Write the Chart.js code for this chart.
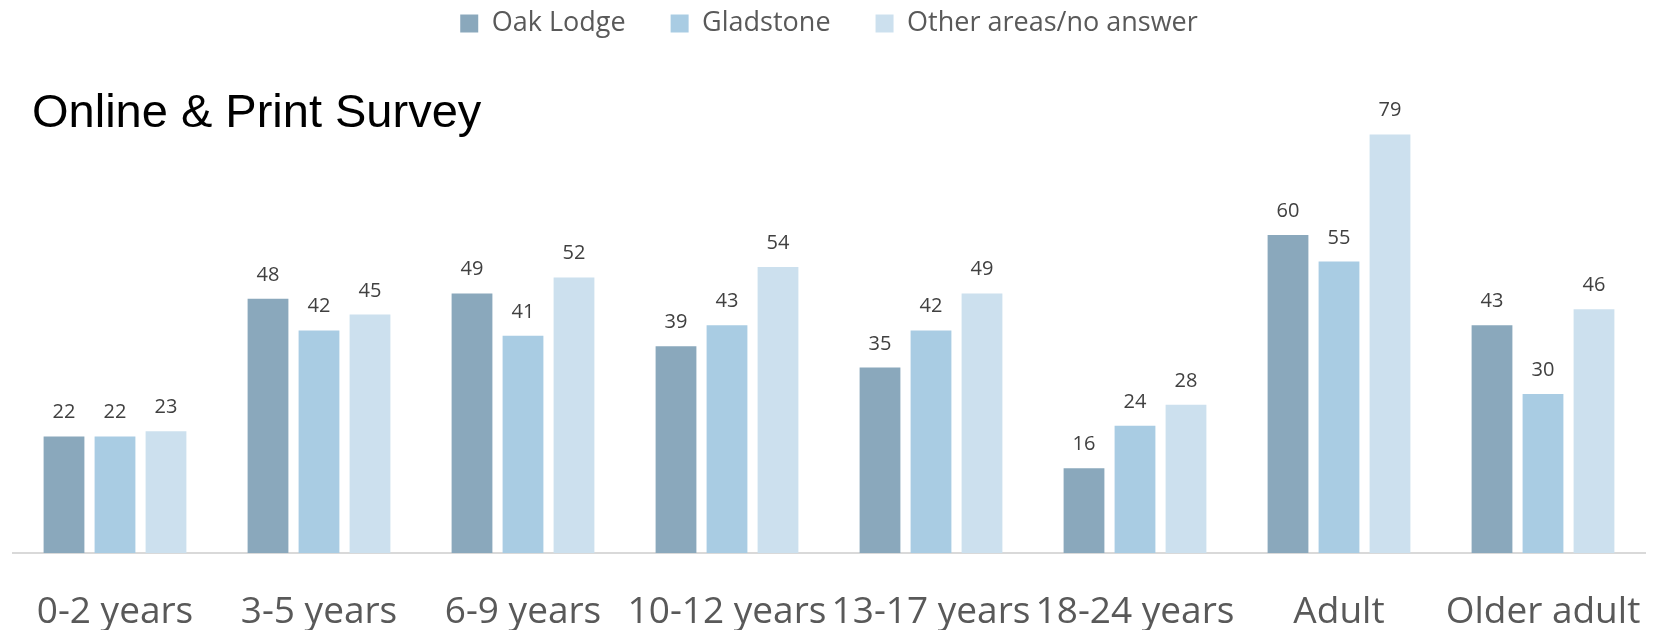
<!DOCTYPE html>
<html lang="en">
  <head>
    <meta charset="UTF-8" />
    <title>Online & Print Survey</title>
    <script src="https://cdn.jsdelivr.net/npm/chart.js"></script>
    <style>
      html, body { margin: 0; padding: 0; background: #fff; overflow: hidden; }
      #wrap { width: 1657px; height: 630px; }
    </style>
  </head>
  <body>
    <div id="wrap"><canvas id="surveyChart"></canvas></div>

    <script>
      const ageGroups = ["0-2 years", "3-5 years", "6-9 years", "10-12 years", "13-17 years", "18-24 years", "Adult", "Older adult"];
      const oakLodge = [22, 48, 49, 39, 35, 16, 60, 43];
      const gladstone = [22, 42, 41, 43, 42, 24, 55, 30];
      const otherAreas = [23, 45, 52, 54, 49, 28, 79, 46];

      // title sits inside the plot, top-left
      const titlePlugin = {
        id: "surveyTitle",
        afterDraw(chart) {
          const ctx = chart.ctx;
          ctx.save();
          ctx.font = "47px 'Liberation Sans', Arial, sans-serif";
          ctx.fillStyle = "#000";
          ctx.textBaseline = "alphabetic";
          ctx.textAlign = "left";
          ctx.fillText("Online & Print Survey", 32, 127);
          ctx.restore();
        },
      };

      // value labels above each bar
      const valueLabels = {
        id: "valueLabels",
        afterDatasetsDraw(chart) {
          const ctx = chart.ctx;
          ctx.save();
          ctx.font = "20px 'Open Sans', sans-serif";
          ctx.fillStyle = "#404040";
          ctx.textAlign = "center";
          ctx.textBaseline = "alphabetic";
          chart.data.datasets.forEach((ds, i) => {
            chart.getDatasetMeta(i).data.forEach((bar, j) => {
              ctx.fillText(ds.data[j], bar.x, bar.y - 18);
            });
          });
          ctx.restore();
        },
      };

      const ctx = document.getElementById("surveyChart").getContext("2d");
      new Chart(ctx, {
        type: "bar",
        data: {
          labels: ageGroups,
          datasets: [
            { label: "Oak Lodge", data: oakLodge, backgroundColor: "#8AA8BC" },
            { label: "Gladstone", data: gladstone, backgroundColor: "#A9CCE3" },
            { label: "Other areas/no answer", data: otherAreas, backgroundColor: "#CCE0EE" },
          ],
        },
        options: {
          responsive: true,
          maintainAspectRatio: false,
          animation: false,
          layout: {
            padding: { top: -35, left: 13, right: 12, bottom: 0 },
          },
          datasets: {
            bar: { categoryPercentage: 0.75, barPercentage: 0.8 },
          },
          plugins: {
            legend: {
              position: "top",
              labels: {
                boxWidth: 18,
                boxHeight: 18,
                padding: 45,
                color: "#595959",
                font: { family: "'Open Sans', sans-serif", size: 27 },
              },
            },
            tooltip: { enabled: false },
          },
          scales: {
            x: {
              grid: { display: false, drawTicks: true, tickLength: 37 },
              border: { display: true, color: "#D9D9D9", width: 2 },
              ticks: {
                color: "#595959",
                font: { family: "'Open Sans', sans-serif", size: 37 },
                padding: 0,
                maxRotation: 0,
                autoSkip: false,
              },
              afterFit(scale) {
                scale.height = 77;
              },
            },
            y: {
              display: false,
              beginAtZero: true,
              max: 95.5,
            },
          },
        },
        plugins: [titlePlugin, valueLabels],
      });
    </script>
  </body>
</html>
